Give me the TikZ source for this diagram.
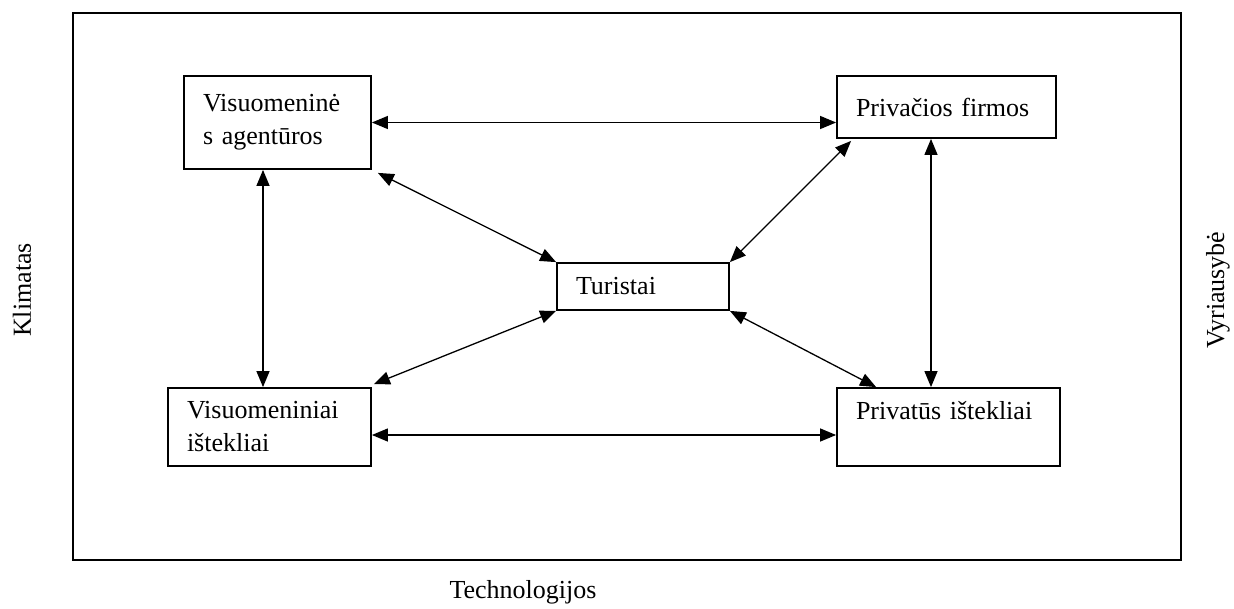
\documentclass[tikz,border=0pt]{standalone}
\usepackage{fontspec}
\setmainfont{Liberation Serif}
\usetikzlibrary{arrows.meta}
\tikzset{
	box/.style={draw, line width=1.8pt, inner xsep=19pt, inner ysep=0pt, align=left, font=\fontsize{26}{33}\selectfont},
	link/.style={line width=1.3pt, {Triangle[length=16pt,width=13pt]}-{Triangle[length=16pt,width=13pt]}},
	side/.style={font=\fontsize{26}{32}\selectfont}
}
\hyphenpenalty=10000

\begin{document}
\begin{tikzpicture}[x=1pt, y=-1pt]
		%%%%% START %%%%%
		\useasboundingbox (0, 0) rectangle (1234, 608);
		
		\draw[line width=1.8pt] (73, 13) rectangle (1181, 560);
		
		\node[box, minimum height=93pt, text width=149pt] (agent) at (277.5, 122.5) {Visuomeninė\\s agentūros};
		\node[box, minimum height=62pt, text width=181pt] (firm) at (946.5, 107) {Privačios firmos};
		\node[box, minimum height=47pt, text width=134pt] (turist) at (643, 286.5) {Turistai};
		\node[box, minimum height=78pt, text width=165pt] (pubres) at (269.5, 427) {Visuomeniniai\\ištekliai};
		\node[box, minimum height=78pt, text width=185pt] (privres) at (948.5, 427) {Privatūs ištekliai\\~};
		
		\draw[link] (agent.east) -- (agent.east -| firm.west);
		\draw[link] ([yshift=-8pt]pubres.east) -- ([yshift=-8pt]pubres.east -| privres.west);
		\draw[link] ([xshift=-14.5pt]agent.south) -- ([xshift=-14.5pt]agent.south |- pubres.north);
		\draw[link] ([xshift=-15.5pt]firm.south) -- ([xshift=-15.5pt]firm.south |- privres.north);
		
		\draw[link] ([xshift=6pt, yshift=-3pt]agent.south east) -- (turist.north west);
		\draw[link] ([xshift=15pt, yshift=-2pt]firm.south west) -- (turist.north east);
		\draw[link] ([xshift=2pt, yshift=3pt]pubres.north east) -- (turist.south west);
		\draw[link] (turist.south east) -- ([xshift=40pt]privres.north west);
		
		\node[side, rotate=90] (climate) at (22, 290) {Klimatas};
		\node[side, rotate=90] (govern) at (1218, 290) {Vyriausybė};
		\node[side] (tech) at (523, 592) {Technologijos};
		%%%%% END %%%%%
\end{tikzpicture}
\end{document}
